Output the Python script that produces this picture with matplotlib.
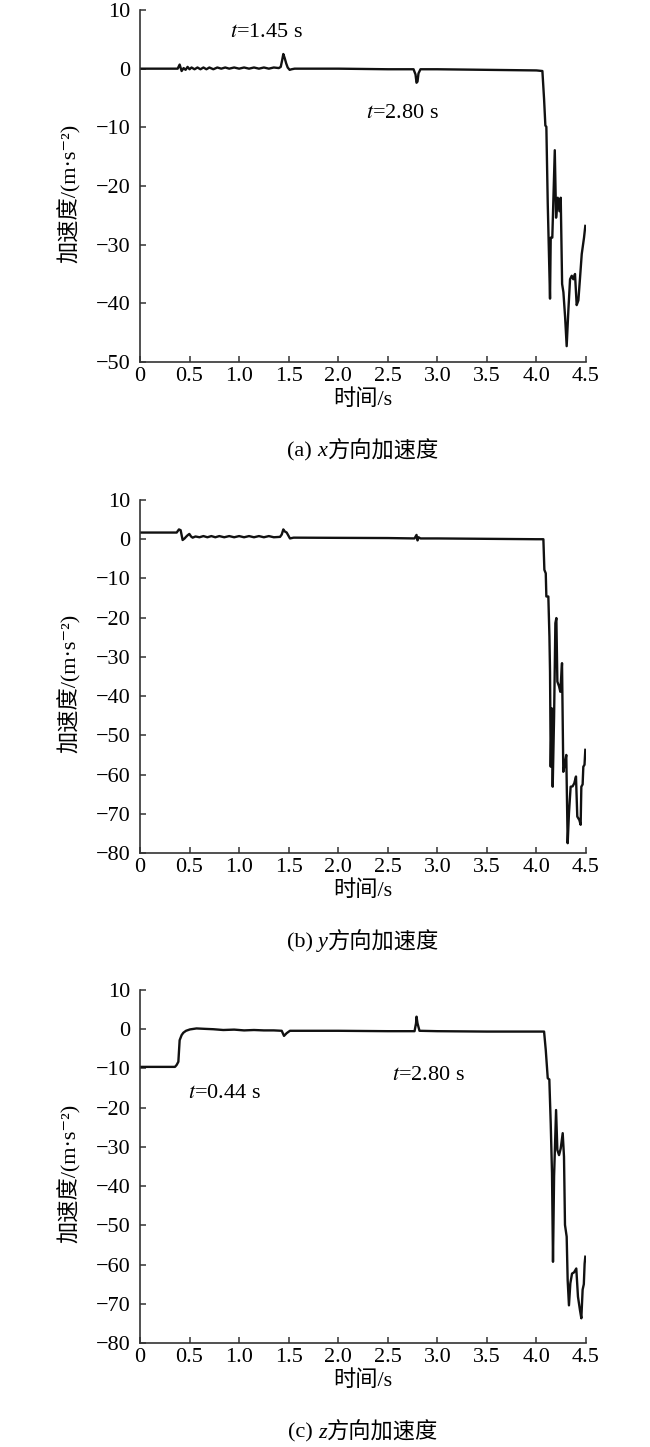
import matplotlib
matplotlib.use('Agg')
import matplotlib.pyplot as plt
from matplotlib.ticker import FuncFormatter, MultipleLocator

# Fonts: Times-like for numbers, CJK fallback for Chinese characters
FONT_LIST = ['Liberation Serif', 'DejaVu Serif', 'Noto Sans CJK SC']
plt.rcParams['font.family'] = FONT_LIST
plt.rcParams['mathtext.fontset'] = 'stix'
plt.rcParams['axes.unicode_minus'] = True

W, H = 650, 1447

# ---------------- data ----------------
# (a) x direction
T_X = [0.00, 0.38, 0.40, 0.42, 0.44, 0.46, 0.48, 0.50, 0.52, 0.55,
       0.58, 0.61, 0.64, 0.67, 0.70, 0.74, 0.78, 0.82, 0.86, 0.90,
       0.95, 1.00, 1.05, 1.10, 1.15, 1.20, 1.25, 1.30, 1.35, 1.40,
       1.42, 1.435, 1.446, 1.46, 1.475, 1.49, 1.51, 1.53, 1.56, 1.60,
       2.00, 2.50, 2.76, 2.78, 2.79, 2.80, 2.81, 2.83, 3.00, 3.50,
       4.00, 4.06, 4.077, 4.09, 4.10, 4.114, 4.137, 4.144, 4.16, 4.185,
       4.198, 4.215, 4.232, 4.245, 4.259, 4.272, 4.289, 4.305, 4.322, 4.339,
       4.356, 4.372, 4.389, 4.406, 4.423, 4.44, 4.457, 4.48, 4.493]
ACC_X = [0.0, 0.0, 0.7, -0.4, 0.1, -0.2, 0.3, -0.1, 0.2, -0.1,
         0.2, -0.1, 0.2, -0.1, 0.2, -0.1, 0.2, 0.0, 0.2, 0.0,
         0.2, 0.0, 0.2, 0.0, 0.2, 0.0, 0.2, 0.0, 0.2, 0.1,
         0.3, 1.5, 2.5, 1.8, 0.9, 0.2, -0.2, -0.1, 0.0, 0.0,
         0.0, -0.1, -0.1, -1.0, -2.4, -2.2, -0.8, -0.1, -0.1, -0.2,
         -0.3, -0.4, -5.2, -9.7, -9.9, -23.0, -39.2, -28.8, -28.8, -13.9,
         -25.4, -22.0, -24.3, -22.0, -36.7, -38.1, -42.3, -47.3, -41.2, -35.9,
         -35.3, -35.9, -35.0, -40.3, -39.5, -35.6, -31.6, -28.8, -26.8]

# (b) y direction
T_Y = [0.00, 0.37, 0.393, 0.41, 0.43, 0.45, 0.464, 0.48, 0.498, 0.515,
       0.531, 0.56, 0.60, 0.64, 0.68, 0.72, 0.76, 0.80, 0.85, 0.90,
       0.95, 1.00, 1.05, 1.10, 1.15, 1.20, 1.25, 1.30, 1.35, 1.413,
       1.43, 1.446, 1.46, 1.48, 1.513, 1.55, 2.00, 2.50, 2.77, 2.79,
       2.80, 2.81, 2.83, 3.00, 3.50, 4.00, 4.07, 4.080, 4.094, 4.10,
       4.12, 4.131, 4.137, 4.144, 4.154, 4.164, 4.178, 4.191, 4.201, 4.211,
       4.228, 4.241, 4.258, 4.271, 4.288, 4.301, 4.315, 4.328, 4.345, 4.365,
       4.382, 4.399, 4.412, 4.433, 4.446, 4.453, 4.466, 4.473, 4.485, 4.493]
ACC_Y = [1.7, 1.7, 2.5, 2.3, -0.2, 0.2, 0.6, 1.0, 1.35, 0.7,
         0.4, 0.7, 0.5, 0.8, 0.5, 0.8, 0.5, 0.8, 0.5, 0.8,
         0.5, 0.8, 0.5, 0.8, 0.5, 0.8, 0.5, 0.8, 0.5, 0.6,
         1.2, 2.5, 2.0, 1.7, 0.2, 0.4, 0.35, 0.3, 0.2, 1.1,
         -0.3, 0.5, 0.2, 0.2, 0.1, 0.0, 0.0, -7.8, -8.7, -14.6,
         -14.6, -24.8, -33.8, -58.0, -43.1, -63.1, -45.2, -21.4, -20.1, -36.3,
         -37.5, -38.9, -31.6, -59.3, -57.0, -55.0, -77.5, -69.9, -63.1, -63.0,
         -62.2, -60.5, -70.7, -71.6, -72.8, -63.1, -62.5, -58.0, -57.5, -53.7]

# (c) z direction
T_Z = [0.00, 0.353, 0.37, 0.387, 0.40, 0.42, 0.437, 0.464, 0.504, 0.57,
       0.65, 0.74, 0.84, 0.95, 1.05, 1.15, 1.25, 1.35, 1.43, 1.453,
       1.48, 1.513, 2.00, 2.50, 2.77, 2.785, 2.79, 2.80, 2.82, 3.00,
       3.50, 4.00, 4.077, 4.094, 4.114, 4.13, 4.144, 4.157, 4.167, 4.178,
       4.198, 4.211, 4.228, 4.245, 4.265, 4.278, 4.288, 4.305, 4.315, 4.328,
       4.342, 4.359, 4.379, 4.402, 4.419, 4.439, 4.453, 4.466, 4.478, 4.486, 4.493]
ACC_Z = [-9.6, -9.6, -9.1, -8.3, -2.8, -1.5, -0.9, -0.4, -0.05, 0.2,
         0.1, 0.0, -0.2, -0.1, -0.3, -0.2, -0.3, -0.3, -0.4, -1.7,
         -1.0, -0.4, -0.4, -0.5, -0.5, 1.5, 3.2, 1.5, -0.4, -0.5,
         -0.6, -0.6, -0.6, -5.3, -12.5, -12.8, -24.0, -36.7, -59.3, -37.5,
         -20.6, -30.8, -32.1, -30.4, -26.5, -32.5, -49.9, -52.9, -64.0, -70.4,
         -64.8, -62.3, -62.0, -61.0, -68.2, -71.6, -73.7, -66.4, -65.0, -59.8, -58.0]

X_TICKS = [0, 0.5, 1.0, 1.5, 2.0, 2.5, 3.0, 3.5, 4.0, 4.5]
Y_LIMITS = [(-50, 10), (-80, 10), (-80, 10)]
PANEL_LETTERS = ['a', 'b', 'c']
AXIS_NAMES = ['x', 'y', 'z']

# ---------------- layout (pixels in the 650x1447 image) ----------------
AX_LEFT, AX_RIGHT = 140, 586
PANEL_TOPS = [10, 500, 990]
PANEL_BOTTOMS = [362, 853, 1343]
FS = 16


def x_fmt(v, pos):
    return '0' if abs(v) < 1e-9 else f'{v:.1f}'


def y_fmt(v, pos):
    return f'{v:.0f}'.replace('-', '\u2212')


def draw_caption(fig, cx, cy, parts):
    """Draw a caption made of pieces with different styles, centred at cx."""
    renderer = fig.canvas.get_renderer()
    texts = []
    for s, style in parts:
        texts.append(fig.text(0, cy, s, fontsize=FS, style=style,
                              family=FONT_LIST, va='center', ha='left'))
    widths = [t.get_window_extent(renderer).width for t in texts]
    x = cx - sum(widths) / 2
    for t, w in zip(texts, widths):
        t.set_x(x / W)
        x += w


fig = plt.figure(figsize=(W / 100, H / 100), dpi=100)

series = [(T_X, ACC_X), (T_Y, ACC_Y), (T_Z, ACC_Z)]
axes = []
for i, (t, a) in enumerate(series):
    top, bot = PANEL_TOPS[i], PANEL_BOTTOMS[i]
    rect = [AX_LEFT / W, 1 - bot / H, (AX_RIGHT - AX_LEFT) / W, (bot - top) / H]
    ax = fig.add_axes(rect)
    ax.plot(t, a, color='#111111', linewidth=1.7, solid_joinstyle='round')
    ax.set_xlim(0, 4.5)
    ax.set_ylim(*Y_LIMITS[i])
    ax.set_xticks(X_TICKS)
    ax.yaxis.set_major_locator(MultipleLocator(10))
    ax.xaxis.set_major_formatter(FuncFormatter(x_fmt))
    ax.yaxis.set_major_formatter(FuncFormatter(y_fmt))
    for side in ['top', 'right']:
        ax.spines[side].set_visible(False)
    for side in ['left', 'bottom']:
        ax.spines[side].set_linewidth(1.2)
        ax.spines[side].set_color('#333333')
    ax.tick_params(direction='in', length=4, width=1.1, color='#333333',
                   labelsize=FS, pad=3.5)
    ax.tick_params(axis='y', pad=7)
    ax.set_ylabel('加速度/(m·s\u207b\u00b2)', fontsize=FS, family=FONT_LIST)
    ax.yaxis.set_label_coords((81 - AX_LEFT) / (AX_RIGHT - AX_LEFT), 0.48)
    axes.append(ax)

    cx = (AX_LEFT + AX_RIGHT) / 2
    fig.text(cx / W, 1 - (bot + 38) / H, '时间/s', fontsize=FS,
             family=FONT_LIST, ha='center', va='center')
    draw_caption(fig, cx, 1 - (bot + 90) / H,
                 [(f'({PANEL_LETTERS[i]}) ', 'normal'),
                  (AXIS_NAMES[i], 'italic'),
                  ('方向加速度', 'normal')])

# annotations
axes[0].text(1.28, 6.1, r'$t$=1.45 s', fontsize=FS, ha='center', va='center')
axes[0].text(2.65, -7.7, r'$t$=2.80 s', fontsize=FS, ha='center', va='center')
axes[2].text(0.85, -16.3, r'$t$=0.44 s', fontsize=FS, ha='center', va='center')
axes[2].text(2.91, -11.7, r'$t$=2.80 s', fontsize=FS, ha='center', va='center')

fig.savefig('out.png', dpi=100)
